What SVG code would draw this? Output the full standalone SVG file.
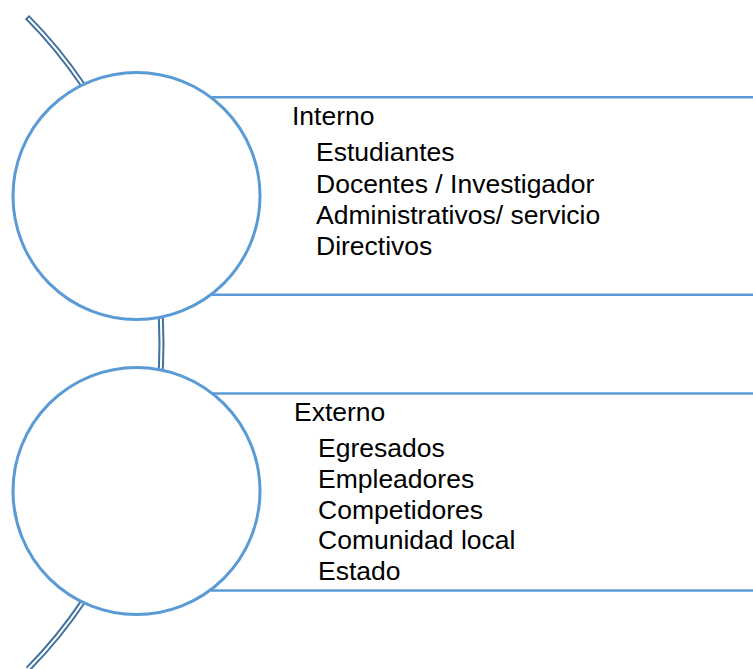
<svg xmlns="http://www.w3.org/2000/svg" width="753" height="669" viewBox="0 0 753 669">
<style>
.bg{fill:#ffffff}
.arcOuter{fill:none;stroke:#41719C;stroke-width:6;stroke-linecap:butt}
.arcInner{fill:none;stroke:#ffffff;stroke-width:2}
.circ{fill:#ffffff;stroke:#5B9BD5;stroke-width:3}
.bar{stroke:#5B9BD5;stroke-width:2.6;fill:none}
.t{font-family:"Liberation Sans",Arial,sans-serif;font-size:26.5px;fill:#000000}
</style>
<rect class="bg" x="0" y="0" width="753" height="669"/>
<g id="connectors">
  <path class="arcOuter" d="M 27 17 A 463.6 463.6 0 0 1 28 669"/>
  <path class="arcInner" d="M 28.3 18.3 A 463.6 463.6 0 0 1 28 669"/>
</g>
<g id="node-interno">
  <line class="bar" x1="211" y1="97.3" x2="753" y2="97.3"/>
  <line class="bar" x1="211" y1="294.7" x2="753" y2="294.7"/>
  <circle class="circ" cx="136.5" cy="196" r="123.5"/>
  <text class="t" x="292" y="125">Interno</text>
  <text class="t" x="316" y="161">Estudiantes</text>
  <text class="t" x="316" y="193">Docentes / Investigador</text>
  <text class="t" x="316" y="224">Administrativos/ servicio</text>
  <text class="t" x="316" y="255">Directivos</text>
</g>
<g id="node-externo">
  <line class="bar" x1="211" y1="393.5" x2="753" y2="393.5"/>
  <line class="bar" x1="211" y1="590.5" x2="753" y2="590.5"/>
  <circle class="circ" cx="136.5" cy="491" r="123.5"/>
  <text class="t" x="294" y="421">Externo</text>
  <text class="t" x="318" y="457">Egresados</text>
  <text class="t" x="318" y="488">Empleadores</text>
  <text class="t" x="318" y="519">Competidores</text>
  <text class="t" x="318" y="549">Comunidad local</text>
  <text class="t" x="318" y="580">Estado</text>
</g>
</svg>
